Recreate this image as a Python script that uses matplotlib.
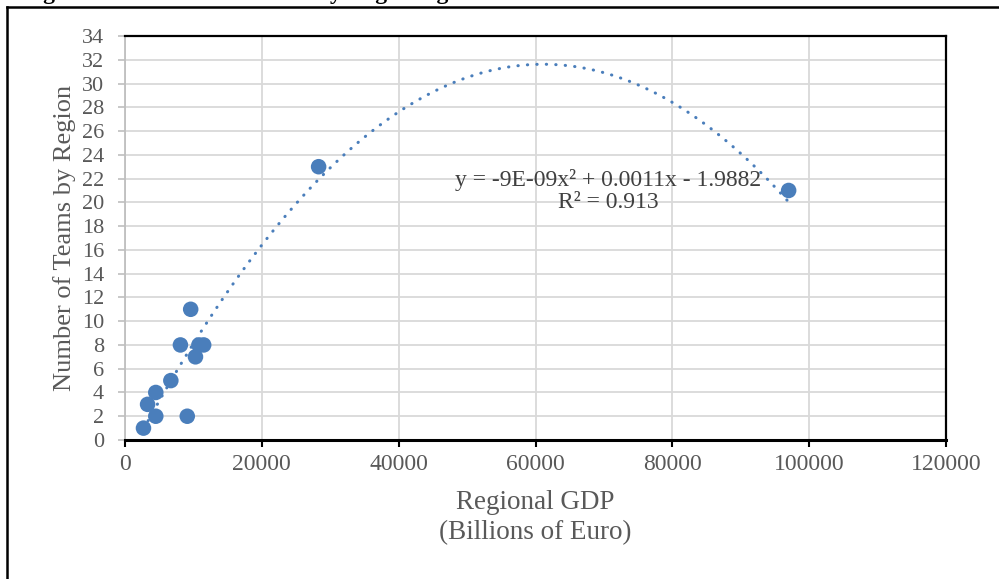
import numpy as np
import matplotlib
matplotlib.use("Agg")
import matplotlib.pyplot as plt
from matplotlib.lines import Line2D

# regional GDP (billions of euro) and number of teams per region
gdp = [2700, 3300, 4500, 4500, 6700, 8100, 9100, 9600, 10300, 10800, 11500, 28300, 97000]
teams = [1, 3, 4, 2, 5, 8, 2, 11, 7, 8, 8, 23, 21]

# polynomial trendline coefficients (as printed on chart)
trend_coef = [-9e-09, 0.0011, -1.9882]
trend_label = "y = -9E-09x² + 0.0011x - 1.9882\nR² = 0.913"

x_ticks = [0, 20000, 40000, 60000, 80000, 100000, 120000]
y_ticks = list(range(0, 35, 2))

BLUE = "#4A7EBB"
GRAY_TXT = "#595959"

plt.rcParams["font.family"] = ["Liberation Serif", "DejaVu Serif"]

fig = plt.figure(figsize=(9.99, 5.79), dpi=100)
ax = fig.add_axes([125 / 999, 1 - 440 / 579, (946 - 125) / 999, (440 - 36) / 579])

# trendline
xs = np.linspace(min(gdp), max(gdp), 400)
ys = np.polyval(trend_coef, xs)
ax.plot(xs, ys, color=BLUE, lw=2.2, linestyle=(0, (0.1, 3.0)),
        dash_capstyle="round", zorder=2)

ax.scatter(gdp, teams, s=125, color=BLUE, edgecolors="none", zorder=3)

ax.set_xlim(0, 120000)
ax.set_ylim(0, 34)
ax.set_xticks(x_ticks)
ax.set_yticks(y_ticks)
ax.grid(True, color="#D9D9D9", lw=1.3)
ax.set_axisbelow(True)

for side in ["top", "right", "bottom"]:
    ax.spines[side].set_color("black")
    ax.spines[side].set_linewidth(1.6)
ax.spines["bottom"].set_linewidth(2.2)
ax.spines["left"].set_color("#BFBFBF")
ax.spines["left"].set_linewidth(1.3)

ax.tick_params(axis="y", colors="#BFBFBF", labelcolor=GRAY_TXT, labelsize=16,
               length=5, width=1.2, pad=10)
ax.tick_params(axis="x", colors="black", labelcolor=GRAY_TXT, labelsize=17,
               length=5, width=1.5, pad=5)

ax.set_ylabel("Number of Teams by Region", fontsize=19, color=GRAY_TXT, labelpad=4)
ax.set_xlabel("Regional GDP\n(Billions of Euro)", fontsize=19.5, color=GRAY_TXT,
              labelpad=11, linespacing=1.25)

ax.text(70600, 20.95, trend_label, fontsize=17, color="#404040",
        ha="center", va="center", linespacing=1.05)

# outer frame of the figure box and clipped caption
fig.add_artist(Line2D([7 / 999, 1], [1 - 7 / 579, 1 - 7 / 579],
                      transform=fig.transFigure, color="black", lw=1.8))
fig.add_artist(Line2D([7 / 999, 7 / 999], [0, 1 - 7 / 579],
                      transform=fig.transFigure, color="black", lw=1.8))
fig.text(22 / 999, 1 + 1 / 579, "Figure 6: Variation of Teams by Region against GDP",
         fontsize=17, fontweight="bold", ha="left", va="baseline")

fig.savefig("out.png", dpi=100)
